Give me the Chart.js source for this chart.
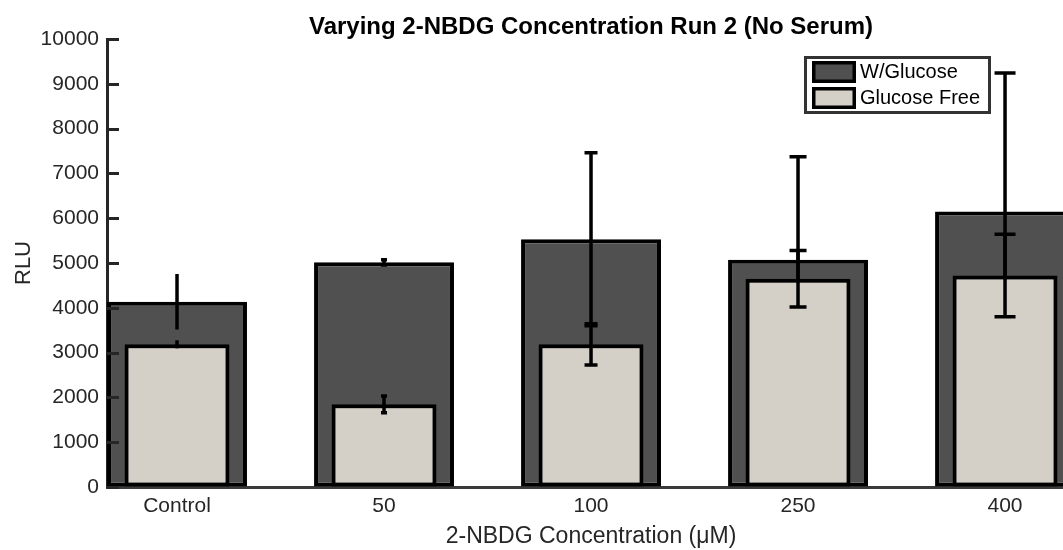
<!DOCTYPE html>
<html>
<head>
<meta charset="utf-8">
<script src="https://cdn.jsdelivr.net/npm/chart.js@4.4.1/dist/chart.umd.min.js"></script>
<style>
  html, body { margin: 0; padding: 0; background: #fff; overflow: hidden; }
  #wrap { width: 1085px; height: 550px; }
</style>
</head>
<body>
<div id="wrap"><canvas id="chart" width="1085" height="550"></canvas></div>
<script>
// Datos
const categories = ['Control', '50', '100', '250', '400'];
const seriesNames = ['W/Glucose', 'Glucose Free'];
const withGlucose = [4135, 5015, 5530, 5070, 6150];
const withGlucoseErr = [620, 60, 1930, 2300, 3090];
const glucoseFree = [3185, 1845, 3185, 4650, 4720];
const glucoseFreeErr = [90, 185, 460, 630, 920];
const yTicks = [0, 1000, 2000, 3000, 4000, 5000, 6000, 7000, 8000, 9000, 10000];

const FONT = "'Liberation Sans', Arial, Helvetica, sans-serif";
const DARK = '#505050';
const LIGHT = '#d4d0c8';
const AXIS = '#262626';

// Barras de error (se dibujan justo después de cada serie)
const errorBars = {
  id: 'errorBars',
  afterDatasetDraw(chart, args, opts) {
    const ds = chart.data.datasets[args.index];
    if (!ds.errors) return;
    const ctx = chart.ctx;
    const yScale = chart.scales.y;
    ctx.save();
    ctx.strokeStyle = '#000';
    ctx.lineWidth = opts.lineWidth;
    args.meta.data.forEach((bar, i) => {
      const v = ds.data[i].y;
      const top = yScale.getPixelForValue(v + ds.errors[i]);
      const bot = yScale.getPixelForValue(v - ds.errors[i]);
      const hw = opts.capWidths[i] / 2;
      ctx.beginPath();
      ctx.moveTo(bar.x, top);
      ctx.lineTo(bar.x, bot);
      if (hw > 0) {
        ctx.moveTo(bar.x - hw, top);
        ctx.lineTo(bar.x + hw, top);
        ctx.moveTo(bar.x - hw, bot);
        ctx.lineTo(bar.x + hw, bot);
      }
      ctx.stroke();
    });
    ctx.restore();
  }
};

// Marcas del eje Y hacia dentro (estilo MATLAB)
const innerTicks = {
  id: 'innerTicks',
  afterDraw(chart, args, opts) {
    const {ctx, chartArea} = chart;
    const yScale = chart.scales.y;
    ctx.save();
    ctx.strokeStyle = AXIS;
    ctx.lineWidth = 3;
    yTicks.forEach(t => {
      const y = Math.round(yScale.getPixelForValue(t)) + 0.5;
      ctx.beginPath();
      ctx.moveTo(chartArea.left, y);
      ctx.lineTo(chartArea.left + opts.length, y);
      ctx.stroke();
    });
    ctx.restore();
  }
};

// Leyenda con recuadro dentro del área del gráfico
const boxLegend = {
  id: 'boxLegend',
  afterDraw(chart, args, opts) {
    const {ctx, chartArea} = chart;
    const left = chartArea.right - opts.right - opts.width;
    const top = chartArea.top + opts.top;
    ctx.save();
    ctx.fillStyle = '#fff';
    ctx.fillRect(left, top, opts.width, opts.height);
    ctx.strokeStyle = '#333';
    ctx.lineWidth = 3;
    ctx.strokeRect(left + 1.5, top + 1.5, opts.width - 3, opts.height - 3);
    ctx.font = '20px ' + FONT;
    ctx.textBaseline = 'middle';
    chart.data.datasets.forEach((ds, i) => {
      const sx = left + 8;
      const sy = top + 5 + i * 26;
      ctx.fillStyle = ds.backgroundColor;
      ctx.fillRect(sx, sy, 44, 22);
      ctx.strokeStyle = '#000';
      ctx.lineWidth = 3.5;
      ctx.strokeRect(sx + 1.75, sy + 1.75, 44 - 3.5, 22 - 3.5);
      ctx.fillStyle = '#000';
      ctx.fillText(ds.label, sx + 48, sy + 11);
    });
    ctx.restore();
  }
};

const ctx = document.getElementById('chart').getContext('2d');
new Chart(ctx, {
  type: 'bar',
  data: {
    datasets: [{
      label: seriesNames[0],
      data: withGlucose.map((v, i) => ({ x: i + 1, y: v })),
      errors: withGlucoseErr,
      backgroundColor: DARK,
      borderColor: '#000',
      borderWidth: 4,
      borderSkipped: false,
      grouped: false,
      categoryPercentage: 1,
      barPercentage: 0.676,
      order: 1
    }, {
      label: seriesNames[1],
      data: glucoseFree.map((v, i) => ({ x: i + 1, y: v })),
      errors: glucoseFreeErr,
      backgroundColor: LIGHT,
      borderColor: '#000',
      borderWidth: 4,
      borderSkipped: false,
      grouped: false,
      categoryPercentage: 1,
      barPercentage: 0.507,
      order: 0
    }]
  },
  options: {
    responsive: false,
    animation: false,
    layout: { padding: { left: 0, right: 10, top: 0, bottom: 0 } },
    scales: {
      x: {
        type: 'linear',
        offset: false,
        min: 0.6618,
        max: 5.338,
        afterBuildTicks: axis => { axis.ticks = categories.map((c, i) => ({ value: i + 1 })); },
        afterFit: axis => { axis.height = 63; },
        grid: { display: true, offset: false, drawOnChartArea: false, drawTicks: false },
        border: { color: '#3a3a3a', width: 3 },
        ticks: {
          autoSkip: false,
          maxRotation: 0,
          padding: 7,
          color: AXIS,
          font: { family: FONT, size: 21 },
          callback: v => categories[Math.round(v) - 1]
        },
        title: {
          display: true,
          text: '2-NBDG Concentration (μM)',
          color: AXIS,
          font: { family: FONT, size: 23 },
          padding: { top: 0, bottom: 0 }
        }
      },
      y: {
        min: 0,
        max: 10000,
        afterBuildTicks: axis => { axis.ticks = yTicks.map(v => ({ value: v })); },
        afterFit: axis => { axis.width = 107; },
        grid: { display: true, drawOnChartArea: false, drawTicks: false },
        border: { color: AXIS, width: 3 },
        ticks: {
          padding: 8,
          color: AXIS,
          font: { family: FONT, size: 21 },
          callback: v => String(v)
        },
        title: {
          display: true,
          text: 'RLU',
          color: AXIS,
          font: { family: FONT, size: 22 },
          padding: { top: 11, bottom: 0 }
        }
      }
    },
    plugins: {
      legend: { display: false },
      tooltip: { enabled: false },
      title: {
        display: true,
        fullSize: false,
        text: 'Varying 2-NBDG Concentration Run 2 (No Serum)',
        color: '#000',
        font: { family: FONT, size: 24, weight: 'bold', lineHeight: 1 },
        padding: { top: 15, bottom: 0 }
      },
      errorBars: { lineWidth: 3.5, capWidths: [0, 6, 13, 17, 21] },
      innerTicks: { length: 12 },
      boxLegend: { right: 84, top: 17, width: 187, height: 58 }
    }
  },
  plugins: [errorBars, innerTicks, boxLegend]
});
</script>
</body>
</html>
